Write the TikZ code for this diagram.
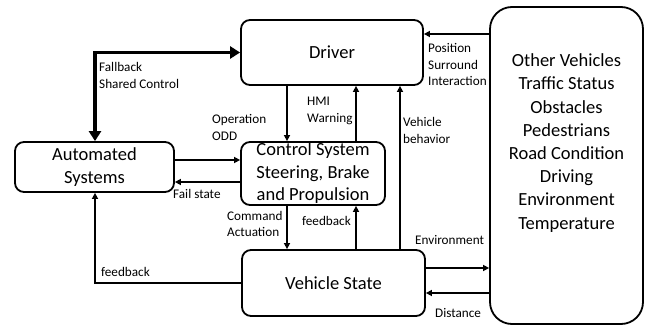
\documentclass[tikz,border=0pt]{standalone}
\usepackage{fontspec}
\setmainfont{Carlito}
\usetikzlibrary{arrows.meta,positioning}

\begin{document}
\begin{tikzpicture}[
  x=1pt,
  y=-1pt,
  box/.style={
    draw,
    line width=1.8pt,
    rounded corners=9pt,
    align=center,
    inner sep=0pt,
    font=\fontsize{18.5}{22.5}\selectfont
  },
  bigbox/.style={box, rounded corners=22pt},
  lbl/.style={anchor=west, align=left, inner sep=0pt, font=\fontsize{13.2}{16.6}\selectfont},
  arrow/.style={-{Triangle[length=6pt,width=6pt]}, line width=1.6pt},
  fatarrow/.style={{Triangle[length=10pt,width=12pt]}-{Triangle[length=10pt,width=12pt]}, line width=3.6pt}
]
\useasboundingbox (0,0) rectangle (651,326);

% boxes
\node[box, minimum width=182pt, minimum height=65pt] (driver) at (332,52.5) {Driver};
\node[box, minimum width=159pt, minimum height=50pt] (auto) at (94.5,167) {Automated\\Systems};
\node[box, minimum width=144pt, minimum height=63pt] (ctrl) at (313,173.5) {Control System\\Steering, Brake\\and Propulsion};
\node[box, minimum width=183pt, minimum height=66pt] (vehicle) at (333.5,283) {Vehicle State};
\node[bigbox, minimum width=153pt, minimum height=317pt] (other) at (566.5,165.5) {};
\node[align=center, font=\fontsize{18.5}{23.2}\selectfont] (othertxt) at (566.5,143) {Other Vehicles\\Traffic Status\\Obstacles\\Pedestrians\\Road Condition\\Driving\\Environment\\Temperature};

% columns and rows for connectors
\coordinate (colF) at (95,0);
\coordinate (colA) at (287,0);
\coordinate (colB) at (356,0);
\coordinate (colV) at (400,0);
\coordinate (rowPos) at (0,34);
\coordinate (rowOp) at (0,160);
\coordinate (rowFail) at (0,182);
\coordinate (rowEnv) at (0,268);
\coordinate (rowDist) at (0,293);

% connectors
\draw[fatarrow] (auto.north -| colF) |- (driver.west);
\draw[arrow] (driver.south -| colA) -- (ctrl.north -| colA);
\draw[arrow] (ctrl.north -| colB) -- (driver.south -| colB);
\draw[arrow] (vehicle.north -| colV) -- (driver.south -| colV);
\draw[arrow] (auto.east |- rowOp) -- (ctrl.west |- rowOp);
\draw[arrow] (ctrl.west |- rowFail) -- (auto.east |- rowFail);
\draw[arrow] (ctrl.south -| colA) -- (vehicle.north -| colA);
\draw[arrow] (vehicle.north -| colB) -- (ctrl.south -| colB);
\draw[arrow] (vehicle.west) -| (auto.south -| colF);
\draw[arrow] (other.west |- rowPos) -- (driver.east |- rowPos);
\draw[arrow] (vehicle.east |- rowEnv) -- (other.west |- rowEnv);
\draw[arrow] (other.west |- rowDist) -- (vehicle.east |- rowDist);

% labels
\node[lbl] (lfallback) at (99,75.5) {Fallback\\Shared Control};
\node[lbl] (lop) at (212,127.5) {Operation\\ODD};
\node[lbl] (lhmi) at (307,111) {HMI\\Warning};
\node[lbl] (lbehav) at (403,130.5) {Vehicle\\behavior};
\node[lbl] (lpos) at (428,64.5) {Position\\Surround\\Interaction};
\node[lbl] (lfail) at (173,194) {Fail state};
\node[lbl] (lcmd) at (227,224) {Command\\Actuation};
\node[lbl] (lfbctrl) at (302,221) {feedback};
\node[lbl] (lfbauto) at (101,272) {feedback};
\node[lbl] (lenv) at (415,240) {Environment};
\node[lbl] (ldist) at (435,313) {Distance};
\end{tikzpicture}
\end{document}
